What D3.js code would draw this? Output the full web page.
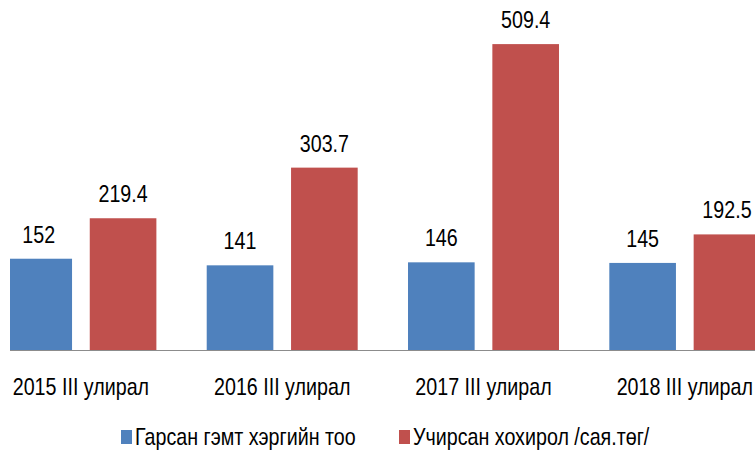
<!DOCTYPE html>
<html>
<head>
<meta charset="utf-8">
<script src="https://cdn.jsdelivr.net/npm/d3@7"></script>
<style>
    body { margin: 0; background: #fff; }
    svg { display: block; }
    text { font-family: "Liberation Sans", Arial, sans-serif; fill: #000; }
</style>
</head>
<body>
<svg id="chart"></svg>
<script>
var categories = ["2015 III улирал", "2016 III улирал", "2017 III улирал", "2018 III улирал"];
var seriesNames = ["Гарсан гэмт хэргийн тоо", "Учирсан хохирол /сая.төг/"];
var crimes = [152, 141, 146, 145];
var damage = [219.4, 303.7, 509.4, 192.5];
var labels = [["152", "141", "146", "145"], ["219.4", "303.7", "509.4", "192.5"]];
var colors = ["#4f81bd", "#c0504d"];

var width = 755,
    height = 451,
    baseY = 350,
    plotLeft = 10,
    narrow = 0.82; // no Arial Narrow installed, squeeze Liberation Sans instead

var svg = d3.select("#chart")
    .attr("width", width)
    .attr("height", height);

var x0 = d3.scaleBand()
    .domain(categories)
    .range([-19.75, 785.45])
    .paddingInner(0.25)
    .paddingOuter(0.125);

var x1 = d3.scaleBand()
    .domain(seriesNames)
    .range([0, x0.bandwidth()])
    .paddingInner(0.21);

var y = d3.scaleLinear()
    .domain([0, 500])
    .range([baseY, baseY - 500 * 0.6005]);

function squeeze(px, py) {
    return "translate(" + px + "," + py + ") scale(" + narrow + ",1)";
}

svg.append("clipPath")
    .attr("id", "plotclip")
    .append("rect")
    .attr("x", plotLeft)
    .attr("y", 0)
    .attr("width", width - plotLeft)
    .attr("height", height);

var values = [crimes, damage];
var rows = [];
categories.forEach(function (c, i) {
    seriesNames.forEach(function (s, j) {
        rows.push({ cat: c, series: s, j: j, value: values[j][i], label: labels[j][i] });
    });
});

var plot = svg.append("g").attr("clip-path", "url(#plotclip)");

plot.selectAll("rect.bar")
    .data(rows)
    .enter().append("rect")
    .attr("class", "bar")
    .attr("x", function (d) { return x0(d.cat) + x1(d.series); })
    .attr("y", function (d) { return y(d.value); })
    .attr("width", x1.bandwidth())
    .attr("height", function (d) { return y(0) - y(d.value); })
    .style("fill", function (d) { return colors[d.j]; });

// value labels
svg.selectAll("text.val")
    .data(rows)
    .enter().append("text")
    .attr("class", "val")
    .attr("transform", function (d) {
        return squeeze(x0(d.cat) + x1(d.series) + x1.bandwidth() / 2, y(d.value) - 16);
    })
    .attr("text-anchor", "middle")
    .style("font-size", "24px")
    .text(function (d) { return d.label; });

// axis line
svg.append("line")
    .attr("x1", plotLeft)
    .attr("x2", width)
    .attr("y1", baseY + 0.5)
    .attr("y2", baseY + 0.5)
    .style("stroke", "#8c8c8c")
    .style("stroke-width", 1);

// category labels
svg.selectAll("text.cat")
    .data(categories)
    .enter().append("text")
    .attr("class", "cat")
    .attr("transform", function (d) { return squeeze(x0(d) + x0.bandwidth() / 2, 395); })
    .attr("text-anchor", "middle")
    .style("font-size", "24px")
    .text(function (d) { return d; });

// legend
var legendX = [121, 399];
var legend = svg.selectAll("g.legend")
    .data(seriesNames)
    .enter().append("g")
    .attr("class", "legend")
    .attr("transform", function (d, i) { return "translate(" + legendX[i] + ",430)"; });

legend.append("rect")
    .attr("width", 11)
    .attr("height", 14)
    .style("fill", function (d, i) { return colors[i]; });

legend.append("text")
    .attr("transform", squeeze(14, 15))
    .style("font-size", "24px")
    .text(function (d) { return d; });
</script>
</body>
</html>
